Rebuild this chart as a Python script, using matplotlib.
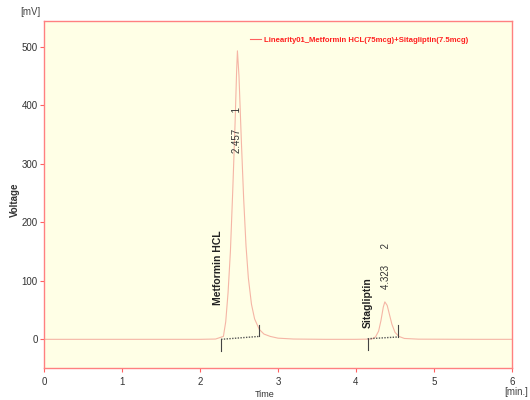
import matplotlib.pyplot as plt
import numpy as np

# chromatogram trace (min, mV)
tiempo = [0.0, 1.0, 2.0, 2.20, 2.30, 2.33, 2.36, 2.39, 2.42, 2.45, 2.47, 2.48,
          2.50, 2.53, 2.56, 2.59, 2.62, 2.66, 2.70, 2.76, 2.82, 2.90, 3.00,
          3.20, 3.60, 4.00, 4.20, 4.25, 4.29, 4.32, 4.35, 4.37, 4.40, 4.43,
          4.46, 4.50, 4.55, 4.62, 4.80, 5.50, 6.00]
voltaje = [0.0, 0.0, 0.0, 0.5, 5, 30, 80, 150, 254, 370, 460, 493,
           450, 340, 240, 160, 105, 60, 35, 17, 9, 5, 2,
           0.5, 0.0, 0.0, 0.5, 4, 14, 32, 55, 64, 58, 42,
           26, 12, 5, 1.5, 0.3, 0.0, 0.0]

# integration baselines: (start time, start mV, end time, end mV)
inicio_pico = [2.27, 4.15]
fin_pico = [2.76, 4.54]
base_inicio = [0.0, 1.0]
base_fin = [5.0, 4.0]

# peak annotations
nombres = ["Metformin HCL", "Sitagliptin"]
nombre_x = [2.23, 4.15]
nombre_y = [58, 19]
etiquetas = ["2.457      1", "4.323      2"]
etiqueta_x = [2.47, 4.39]
etiqueta_y = [318, 86]

leyenda = "Linearity01_Metformin HCL(75mcg)+Sitagliptin(7.5mcg)"

angosta = ['Liberation Sans Narrow', 'Liberation Sans', 'DejaVu Sans']
normal = ['Liberation Sans', 'DejaVu Sans']
plt.rcParams['font.family'] = angosta

fig = plt.figure(figsize=(5.3, 4.0), dpi=100)
ax = fig.add_axes([0.083, 0.08, 0.883, 0.8675])
ax.set_facecolor('#FFFFE6')

ax.plot(tiempo, voltaje, color='#F5B5A5', linewidth=0.8, label=leyenda)

for x0, y0, x1, y1 in zip(inicio_pico, base_inicio, fin_pico, base_fin):
    ax.plot([x0, x1], [y0, y1], color='#555555', linestyle=(0, (1, 1)), linewidth=1.0)
    ax.plot([x0, x0], [y0, y0 - 20], color='#444444', linewidth=0.8)
    ax.plot([x1, x1], [y1, y1 + 20], color='#444444', linewidth=0.8)

for n, x, y in zip(nombres, nombre_x, nombre_y):
    ax.text(x, y, n, rotation=90, ha='center', va='bottom', fontsize=7.5,
            fontweight='bold', color='#222222', family=normal)
for e, x, y in zip(etiquetas, etiqueta_x, etiqueta_y):
    ax.text(x, y, e, rotation=90, ha='center', va='bottom', fontsize=7,
            color='#333333', family=normal)

ax.set_xlim(0, 6)
ax.set_ylim(-49, 544)
ax.set_xticks(range(0, 7))
ax.set_yticks(range(0, 501, 100))

for s in ax.spines.values():
    s.set_color('#FF8080')
    s.set_linewidth(1.0)
ax.tick_params(colors='#FF6060', labelcolor='#333333', labelsize=7,
               length=3, width=0.8)
ax.tick_params(axis='y', pad=1.5)

fig.text(0.028, 0.5, "Voltage", rotation=90, ha='center', va='center',
         fontsize=7, fontweight='bold', color='#333333', family=normal)
fig.text(0.5, 0.003, "Time", ha='center', va='bottom', fontsize=6.5, color='#333333')
fig.text(0.038, 0.962, "[mV]", fontsize=7, color='#444444')
fig.text(0.997, 0.012, "[min.]", ha='right', fontsize=7, color='#444444')

leg = ax.legend(loc='upper left', bbox_to_anchor=(0.425, 0.975), frameon=False,
                fontsize=5.6, handlelength=1.4, handletextpad=0.4)
for t in leg.get_texts():
    t.set_color('#FF2020')
    t.set_fontweight('bold')
leg.get_lines()[0].set_color('#FF6060')

fig.savefig("out.png", dpi=100)
